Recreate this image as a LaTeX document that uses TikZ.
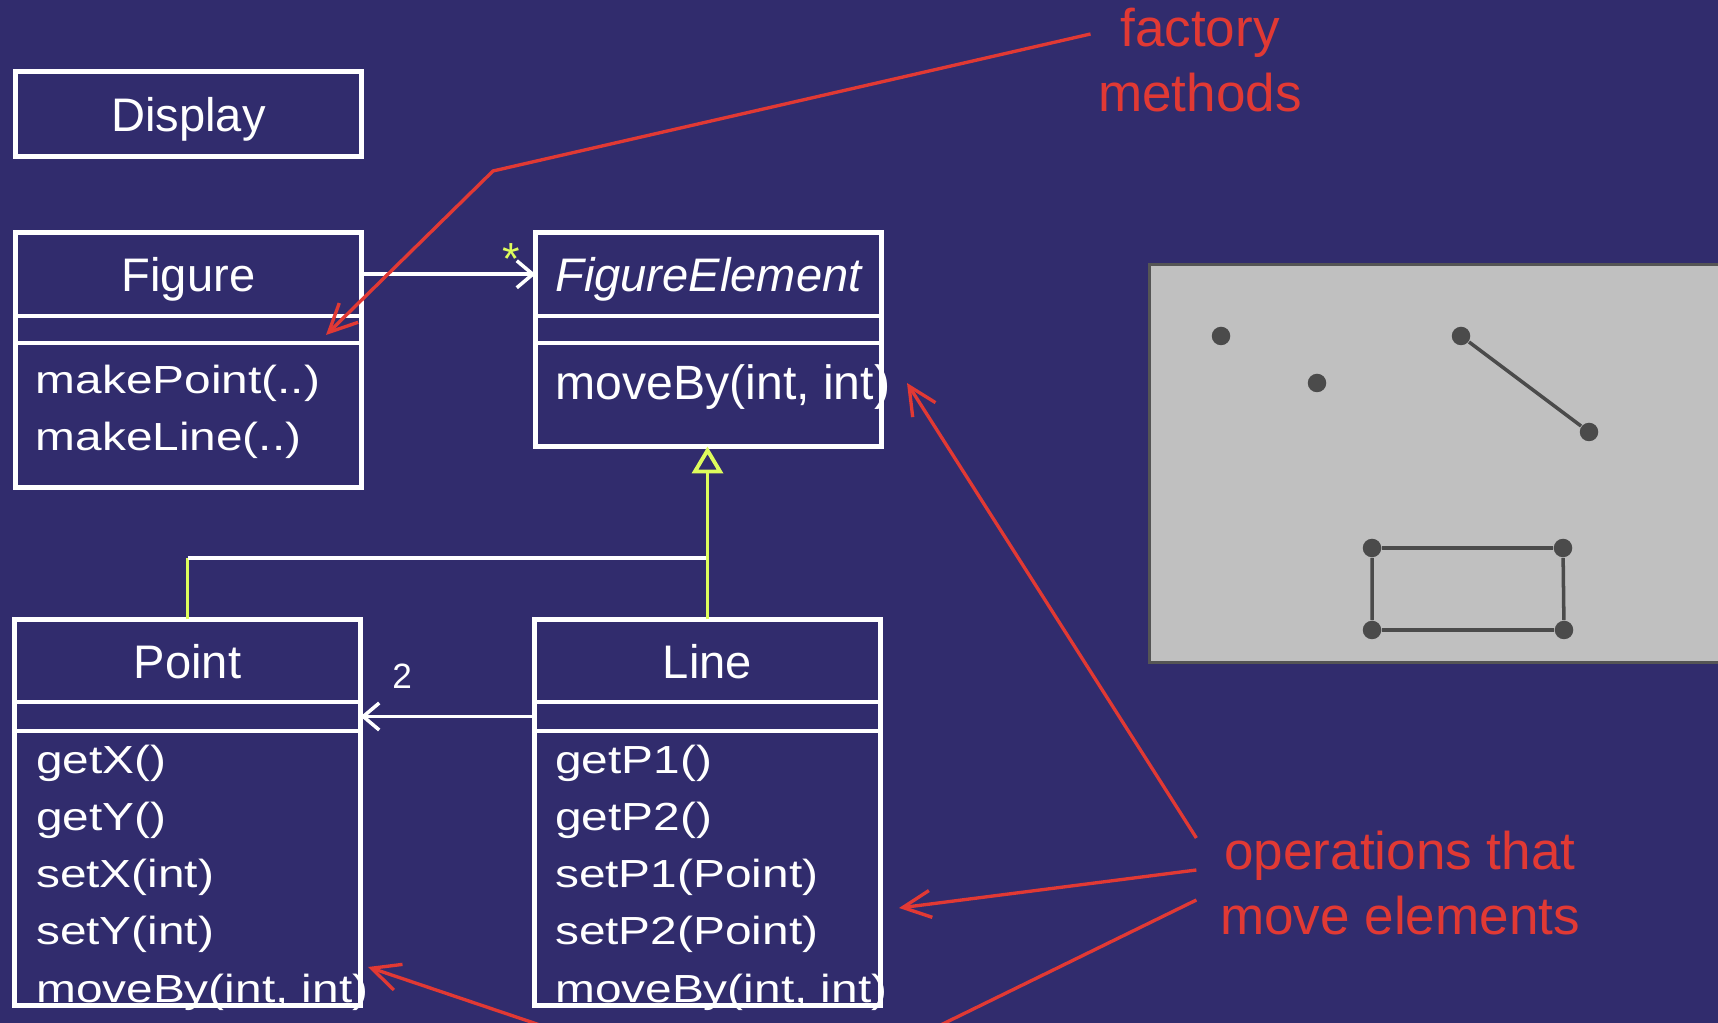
\documentclass[tikz,border=0pt]{standalone}
\usepackage{fontspec}
\setmainfont{Liberation Sans}
\newfontfamily\opsfont[FakeStretch=1.22]{Liberation Sans}
\usetikzlibrary{arrows.meta,positioning}
\definecolor{SlideBlue}{RGB}{49,44,109}
\definecolor{NoteRed}{RGB}{225,57,52}
\definecolor{GenYellow}{RGB}{222,252,92}
\definecolor{PanelGrey}{RGB}{192,192,192}
\definecolor{PanelEdge}{RGB}{85,85,85}
\definecolor{DotGrey}{RGB}{75,75,75}

\begin{document}
\begin{tikzpicture}[
    classbox/.style={draw=white,line width=1.4pt,outer sep=0pt,inner sep=0pt,
                     minimum width=3.46cm},
    classhead/.style={classbox,text=white,font=\fontsize{13.4}{16}\selectfont,
                      minimum height=0.835cm,text height=0.4cm,text depth=0.05cm},
    classattr/.style={classbox,minimum height=0.27cm},
    opstext/.style={text=white,align=left,inner sep=0pt,
                    font=\opsfont\fontsize{11.15}{16.3}\selectfont},
    assoc/.style={draw=white,line width=1pt,-{Straight Barb[length=1.6mm,width=2.7mm]}},
    mult/.style={inner sep=0pt},
    gen/.style={draw=GenYellow,line width=1.1pt},
    note/.style={text=NoteRed,align=center,inner sep=0.07cm,
                 font=\fontsize{15.1}{18.5}\selectfont},
    leader/.style={draw=NoteRed,line width=0.95pt,-{Straight Barb[length=2.8mm,width=2.7mm]}},
    dot/.style={circle,fill=DotGrey,inner sep=0pt,minimum size=0.185cm},
    seg/.style={draw=DotGrey,line width=1pt}]

  \useasboundingbox (0,0) rectangle (17.18,-10.23);
  \clip (0,0) rectangle (17.18,-10.23);
  \fill[SlideBlue] (0,0) rectangle (17.18,-10.23);

  % what the display shows
  \filldraw[fill=PanelGrey,draw=PanelEdge,line width=0.85pt] (11.495,-2.645) rectangle (17.6,-6.625);
  \node[dot] (d1) at (12.21,-3.36) {};
  \node[dot] (d2) at (13.17,-3.83) {};
  \node[dot] (s1) at (14.61,-3.36) {};
  \node[dot] (s2) at (15.89,-4.32) {};
  \node[dot] (r1) at (13.72,-5.48) {};
  \node[dot] (r2) at (15.63,-5.48) {};
  \node[dot] (r3) at (15.64,-6.30) {};
  \node[dot] (r4) at (13.72,-6.30) {};
  \draw[seg] (s1) -- (s2);
  \draw[seg] (r1) -- (r2) -- (r3) -- (r4) -- (r1);

  % classes
  \node[classhead,minimum height=0.85cm] (display) at (1.885,-1.14) {Display};

  \node[classhead,anchor=north west] (fig) at (0.155,-2.325) {Figure};
  \node[classattr,below=0pt of fig] (figattr) {};
  \node[classbox,minimum height=1.445cm,below=0pt of figattr] (figops) {};
  \node[opstext,below right=0.21cm and 0.195cm of figops.north west] (figopst)
       {makePoint(..)\\makeLine(..)};

  \node[classhead,anchor=north west,font=\fontsize{13.4}{16}\selectfont\itshape] (elem)
       at (5.355,-2.325) {FigureElement};
  \node[classattr,below=0pt of elem] (elemattr) {};
  \node[classbox,minimum height=1.035cm,below=0pt of elemattr] (elemops) {};
  \node[opstext,font=\fontsize{13.7}{16}\selectfont,
        below right=0.21cm and 0.195cm of elemops.north west] (elemopst) {moveBy(int, int)};

  \node[classhead,anchor=north west,minimum height=0.825cm] (pt) at (0.145,-6.195) {Point};
  \node[classattr,minimum height=0.29cm,below=0pt of pt] (ptattr) {};
  \node[classbox,minimum height=2.745cm,below=0pt of ptattr] (ptops) {};
  \node[opstext,below right=0.13cm and 0.21cm of ptops.north west] (ptopst)
       {getX()\\getY()\\setX(int)\\setY(int)\\moveBy(int, int)};

  \node[classhead,anchor=north west,minimum height=0.825cm] (ln) at (5.345,-6.195) {Line};
  \node[classattr,minimum height=0.29cm,below=0pt of ln] (lnattr) {};
  \node[classbox,minimum height=2.745cm,below=0pt of lnattr] (lnops) {};
  \node[opstext,below right=0.13cm and 0.20cm of lnops.north west] (lnopst)
       {getP1()\\getP2()\\setP1(Point)\\setP2(Point)\\moveBy(int, int)};

  % associations
  \draw[assoc] (fig.east) -- node[mult,pos=.86,anchor=base,text=GenYellow,
        font=\fontsize{12.8}{14}\selectfont] {*} (elem.west);
  \draw[assoc] (lnattr.west) -- node[mult,pos=.76,above=2.6mm,text=white,
        font=\fontsize{10}{12}\selectfont] {2} (ptattr.east);

  % generalization
  \path (pt.north) ++(0,0.615) coordinate (split);
  \draw[gen] (pt.north) -- (split);
  \draw[white,line width=1pt] (split) -- (split -| ln.north);
  \draw[gen,-{Triangle[open,length=2.7mm,width=3.1mm]}] (ln.north) -- (ln.north |- elemops.south);

  % notes
  \node[note] (factory) at (12.00,-0.60) {factory\\methods};
  \node[note] (movenote) at (14.00,-8.83) {operations that\\move elements};

  \coordinate (fmbend) at (4.93,-1.71);
  \coordinate (fmtip) at (3.26,-3.35);
  \coordinate (tipelem) at (9.07,-3.83);
  \coordinate (tipline) at (8.99,-9.08);
  \coordinate (mvbend) at (7.77,-11.05);
  \coordinate (tippoint) at (3.68,-9.67);

  \draw[leader] ([yshift=2.6mm]factory.west) -- (fmbend) -- (fmtip);
  \draw[leader] ([shift={(-1.6mm,4.5mm)}]movenote.west) -- (tipelem);
  \draw[leader] ([shift={(-1.6mm,1.3mm)}]movenote.west) -- (tipline);
  \draw[leader] ([shift={(-1.6mm,-1.7mm)}]movenote.west) -- (mvbend) -- (tippoint);
\end{tikzpicture}
\end{document}
